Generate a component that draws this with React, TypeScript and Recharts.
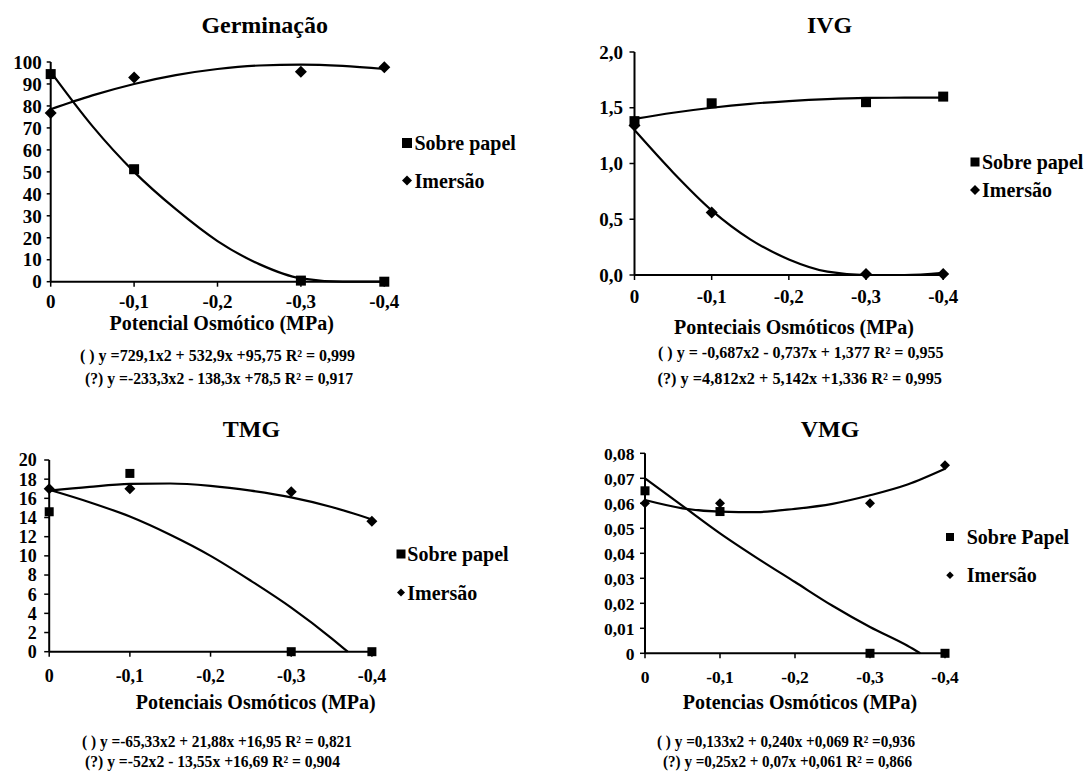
import React from 'react';
import { ComposedChart, Line, Scatter, XAxis, YAxis, Legend } from 'recharts';

const FONT = "'Liberation Serif', 'Times New Roman', serif";

// ---------- shared x values ----------
const potenciais = [0, -0.1, -0.3, -0.4];
const curveX = [0, -0.05, -0.1, -0.15, -0.2, -0.25, -0.3, -0.35, -0.4];
const xTicks = [0, -0.1, -0.2, -0.3, -0.4];
const seriesNames = ['Sobre papel', 'Imersão'];

// ---------- Germinação ----------
const germPapel = [94.5, 51.2, 0.5, 0];
const germImersao = [76.8, 93, 95.6, 97.6];
const germPapelCurve = [95.5, 70.8, 50, 33, 18.5, 8, 1.5, 0, 0];
const germImersaoCurve = [78.5, 84.8, 90, 94, 96.8, 98.4, 98.8, 98.2, 96.8];
const germYTicks = [0, 10, 20, 30, 40, 50, 60, 70, 80, 90, 100];

// ---------- IVG ----------
const ivgPapel = [1.38, 1.54, 1.55, 1.6];
const ivgImersao = [1.34, 0.56, 0.01, 0.01];
const ivgPapelCurve = [1.4, 1.455, 1.5, 1.535, 1.56, 1.578, 1.588, 1.59, 1.59];
const ivgImersaoCurve = [1.3, 0.92, 0.58, 0.32, 0.14, 0.03, 0, 0, 0.02];
const ivgYTicks = [0, 0.5, 1, 1.5, 2];

// ---------- TMG ----------
const tmgPapel = [14.6, 18.6, 0, 0];
const tmgImersao = [17.0, 17.0, 16.7, 13.6];
const tmgPapelCurveX = [0, -0.05, -0.1, -0.15, -0.2, -0.25, -0.3, -0.35, -0.37];
const tmgPapelCurve = [16.9, 15.6, 14.1, 12.2, 10.0, 7.4, 4.6, 1.4, 0];
const tmgImersaoCurve = [16.8, 17.2, 17.5, 17.55, 17.3, 16.8, 16.1, 15.1, 13.8];
const tmgYTicks = [0, 2, 4, 6, 8, 10, 12, 14, 16, 18, 20];

// ---------- VMG ----------
const vmgPapel = [0.065, 0.0567, 0, 0];
const vmgImersao = [0.06, 0.06, 0.06, 0.0752];
const vmgPapelCurveX = [0, -0.05, -0.1, -0.15, -0.2, -0.25, -0.3, -0.35, -0.367];
const vmgPapelCurve = [0.07, 0.059, 0.048, 0.038, 0.0285, 0.019, 0.0105, 0.003, 0];
const vmgImersaoCurve = [0.0613, 0.058, 0.0567, 0.0565, 0.0578, 0.0598, 0.0632, 0.0675, 0.0738];
const vmgYTicks = [0, 0.01, 0.02, 0.03, 0.04, 0.05, 0.06, 0.07, 0.08];

// ---------- texts ----------
const titles = ['Germinação', 'IVG', 'TMG', 'VMG'];
const axisLabels = [
  'Potencial Osmótico (MPa)',
  'Ponteciais Osmóticos (MPa)',
  'Potenciais Osmóticos (MPa)',
  'Potencias Osmóticos (MPa)',
];
const legendNames = [
  ['Sobre papel', 'Imersão'],
  ['Sobre papel', 'Imersão'],
  ['Sobre papel', 'Imersão'],
  ['Sobre Papel', 'Imersão'],
];
const equations = [
  ['( ) y =729,1x2 + 532,9x +95,75   R² = 0,999', '(?) y =-233,3x2 - 138,3x +78,5   R² = 0,917'],
  ['( ) y = -0,687x2 - 0,737x + 1,377   R² = 0,955', '(?) y =4,812x2 + 5,142x +1,336   R² = 0,995'],
  ['( ) y =-65,33x2 + 21,88x +16,95   R² = 0,821', '(?) y =-52x2 - 13,55x +16,69    R² = 0,904'],
  ['( ) y =0,133x2 + 0,240x +0,069   R² =0,936', '(?) y =0,25x2 + 0,07x +0,061    R² = 0,866'],
];

const rows = (xs: number[], ys: number[]) => xs.map((x, i) => ({ x, y: ys[i] }));
const comma = (s: string) => s.replace('.', ',');
const fmtX = (v: number) => (v === 0 ? '0' : comma(v.toFixed(1)));
const fmtInt = (v: number) => String(v);
const fmt1 = (v: number) => comma(v.toFixed(1));
const fmt2 = (v: number) => (v === 0 ? '0' : comma(v.toFixed(2)));

const square = (s: number) => (props: any) => (
  <rect x={props.cx - s / 2} y={props.cy - s / 2} width={s} height={s} fill="#000" />
);
const diamond = (d: number) => (props: any) => {
  const h = d / 2;
  const { cx, cy } = props;
  return <path d={`M${cx},${cy - h}L${cx + h},${cy}L${cx},${cy + h}L${cx - h},${cy}Z`} fill="#000" />;
};

const XH = 30;

const panels = [
  {
    left: 0, top: 0, width: 540, height: 390,
    plotLeft: 50.7, plotRight: 384.3, plotTop: 62, plotBottom: 281.7,
    yDomain: [0, 100], yTicks: germYTicks, fmtY: fmtInt, fs: 19,
    yTickSize: 4, yTickMargin: 5, xTickMargin: 8,
    papel: germPapel, imersao: germImersao,
    papelCurveX: curveX, papelCurve: germPapelCurve, imersaoCurve: germImersaoCurve,
    sq: 10, dm: 12,
    legend: { mx: 406.5, tx: 414, y1: 143, y2: 180.5, fs: 20, sq: 10, dm: 10 },
    title: { x: 264.7, y: 25 },
    axisLabel: { x: 221.7, y: 323.3 },
    eq: [{ x1: 80, x2: 355, y: 355 }, { x1: 85, x2: 353, y: 378 }],
  },
  {
    left: 540, top: 0, width: 545, height: 390,
    plotLeft: 634.5, plotRight: 943.2, plotTop: 52, plotBottom: 275,
    yDomain: [0, 2], yTicks: ivgYTicks, fmtY: fmt1, fs: 19,
    yTickSize: 5, yTickMargin: 6.5, xTickMargin: 10,
    papel: ivgPapel, imersao: ivgImersao,
    papelCurveX: curveX, papelCurve: ivgPapelCurve, imersaoCurve: ivgImersaoCurve,
    sq: 10, dm: 12,
    legend: { mx: 975, tx: 982, y1: 162, y2: 190, fs: 20, sq: 9, dm: 10 },
    title: { x: 829.6, y: 25 },
    axisLabel: { x: 794, y: 327 },
    eq: [{ x1: 658, x2: 943.5, y: 352.5 }, { x1: 657.5, x2: 942, y: 378 }],
  },
  {
    left: 0, top: 390, width: 540, height: 382,
    plotLeft: 49.2, plotRight: 371.9, plotTop: 460, plotBottom: 651.7,
    yDomain: [0, 20], yTicks: tmgYTicks, fmtY: fmtInt, fs: 18,
    yTickSize: 5, yTickMargin: 7.5, xTickMargin: 13,
    papel: tmgPapel, imersao: tmgImersao,
    papelCurveX: tmgPapelCurveX, papelCurve: tmgPapelCurve, imersaoCurve: tmgImersaoCurve,
    sq: 9, dm: 11,
    legend: { mx: 401, tx: 407.3, y1: 553.5, y2: 592, fs: 20, sq: 9, dm: 8 },
    title: { x: 251.4, y: 429.3 },
    axisLabel: { x: 255.7, y: 701.7 },
    eq: [{ x1: 82, x2: 352, y: 741.5 }, { x1: 85, x2: 340, y: 761 }],
  },
  {
    left: 540, top: 390, width: 545, height: 382,
    plotLeft: 645, plotRight: 945, plotTop: 453.3, plotBottom: 653.3,
    yDomain: [0, 0.08], yTicks: vmgYTicks, fmtY: fmt2, fs: 17.5,
    yTickSize: 5, yTickMargin: 5.5, xTickMargin: 12.7,
    papel: vmgPapel, imersao: vmgImersao,
    papelCurveX: vmgPapelCurveX, papelCurve: vmgPapelCurve, imersaoCurve: vmgImersaoCurve,
    sq: 9, dm: 10,
    legend: { mx: 950, tx: 966.7, y1: 536.7, y2: 575, fs: 20, sq: 8, dm: 7.5 },
    title: { x: 830, y: 429.3 },
    axisLabel: { x: 800, y: 701.7 },
    eq: [{ x1: 657, x2: 915, y: 741.5 }, { x1: 663, x2: 912, y: 761.5 }],
  },
];

function LegendBox({ payload, p, names }: any) {
  const L = p.legend;
  const items = (payload || [])
    .filter((e: any) => e.type !== 'none' && seriesNames.includes(e.value))
    .sort((a: any, b: any) => seriesNames.indexOf(a.value) - seriesNames.indexOf(b.value));
  return (
    <svg width={190} height={L.y2 - L.y1 + 40} style={{ overflow: 'visible', display: 'block' }}>
      {items.map((e: any) => {
        const k = seriesNames.indexOf(e.value);
        const cy = 20 + k * (L.y2 - L.y1);
        const cx = 12;
        const mark =
          e.type === 'square' ? (
            <rect x={cx - L.sq / 2} y={cy - L.sq / 2} width={L.sq} height={L.sq} fill="#000" />
          ) : (
            <path
              d={`M${cx},${cy - L.dm / 2}L${cx + L.dm / 2},${cy}L${cx},${cy + L.dm / 2}L${cx - L.dm / 2},${cy}Z`}
              fill="#000"
            />
          );
        return (
          <g key={k}>
            {mark}
            <text
              x={cx + (L.tx - L.mx)}
              y={cy}
              dominantBaseline="central"
              style={{ fontFamily: FONT, fontWeight: 700, fontSize: L.fs }}
              fill="#000"
            >
              {names[k]}
            </text>
          </g>
        );
      })}
    </svg>
  );
}

function Panel({ p, idx }: any) {
  const margin = {
    top: p.plotTop - p.top,
    right: p.left + p.width - p.plotRight,
    bottom: p.top + p.height - p.plotBottom - XH,
    left: 0,
  };
  const tickStyle = { fill: '#000', fontSize: p.fs, fontWeight: 700, fontFamily: FONT, style: { fontFamily: FONT } };
  const L = p.legend;
  return (
    <div style={{ position: 'absolute', left: p.left, top: p.top, width: p.width, height: p.height, fontFamily: FONT }}>
      <ComposedChart width={p.width} height={p.height} margin={margin} style={{ fontFamily: FONT }}>
        <XAxis
          type="number"
          dataKey="x"
          domain={[-0.4, 0]}
          reversed
          ticks={xTicks}
          interval={0}
          tickFormatter={fmtX}
          height={XH}
          tickSize={5}
          tickMargin={p.xTickMargin}
          axisLine={{ stroke: '#000', strokeWidth: 2 }}
          tickLine={{ stroke: '#000', strokeWidth: 1.5 }}
          tick={tickStyle}
        />
        <YAxis
          type="number"
          dataKey="y"
          domain={p.yDomain}
          ticks={p.yTicks}
          interval={0}
          tickFormatter={p.fmtY}
          width={p.plotLeft - p.left}
          tickSize={p.yTickSize}
          tickMargin={p.yTickMargin}
          axisLine={{ stroke: '#000', strokeWidth: 2 }}
          tickLine={{ stroke: '#000', strokeWidth: 1.5 }}
          tick={tickStyle}
        />
        <Line
          data={rows(p.papelCurveX, p.papelCurve)}
          dataKey="y"
          type="monotone"
          stroke="#000"
          strokeWidth={2.2}
          dot={false}
          activeDot={false}
          legendType="none"
          isAnimationActive={false}
        />
        <Line
          data={rows(curveX, p.imersaoCurve)}
          dataKey="y"
          type="monotone"
          stroke="#000"
          strokeWidth={2.2}
          dot={false}
          activeDot={false}
          legendType="none"
          isAnimationActive={false}
        />
        <Scatter
          name={seriesNames[0]}
          data={rows(potenciais, p.papel)}
          dataKey="y"
          fill="#000"
          legendType="square"
          shape={square(p.sq)}
          isAnimationActive={false}
        />
        <Scatter
          name={seriesNames[1]}
          data={rows(potenciais, p.imersao)}
          dataKey="y"
          fill="#000"
          legendType="diamond"
          shape={diamond(p.dm)}
          isAnimationActive={false}
        />
        <Legend
          layout="horizontal"
          verticalAlign="middle"
          align="center"
          wrapperStyle={{
            left: L.mx - 12 - p.left,
            top: L.y1 - 20 - p.top,
            width: 190,
            height: L.y2 - L.y1 + 40,
          }}
          content={(props: any) => <LegendBox payload={props.payload} p={p} names={legendNames[idx]} />}
        />
      </ComposedChart>
    </div>
  );
}

export default function App() {
  return (
    <div
      style={{
        position: 'absolute',
        left: 0,
        top: 0,
        width: 1085,
        height: 772,
        background: '#fff',
        overflow: 'hidden',
        fontFamily: FONT,
      }}
    >
      {panels.map((p, i) => (
        <Panel key={i} p={p} idx={i} />
      ))}
      <svg
        width={1085}
        height={772}
        style={{ position: 'absolute', left: 0, top: 0, pointerEvents: 'none', fontFamily: FONT }}
      >
        {panels.map((p, i) => (
          <g key={i} style={{ fontFamily: FONT, fontWeight: 700 }} fill="#000">
            <text x={p.title.x} y={p.title.y} textAnchor="middle" dominantBaseline="central" fontSize={24}>
              {titles[i]}
            </text>
            <text x={p.axisLabel.x} y={p.axisLabel.y} textAnchor="middle" dominantBaseline="central" fontSize={20}>
              {axisLabels[i]}
            </text>
            {p.eq.map((e: any, j: number) => (
              <text
                key={j}
                x={e.x1}
                y={e.y}
                dominantBaseline="central"
                fontSize={16}
                textLength={e.x2 - e.x1}
                lengthAdjust="spacingAndGlyphs"
              >
                {equations[i][j]}
              </text>
            ))}
          </g>
        ))}
      </svg>
    </div>
  );
}
